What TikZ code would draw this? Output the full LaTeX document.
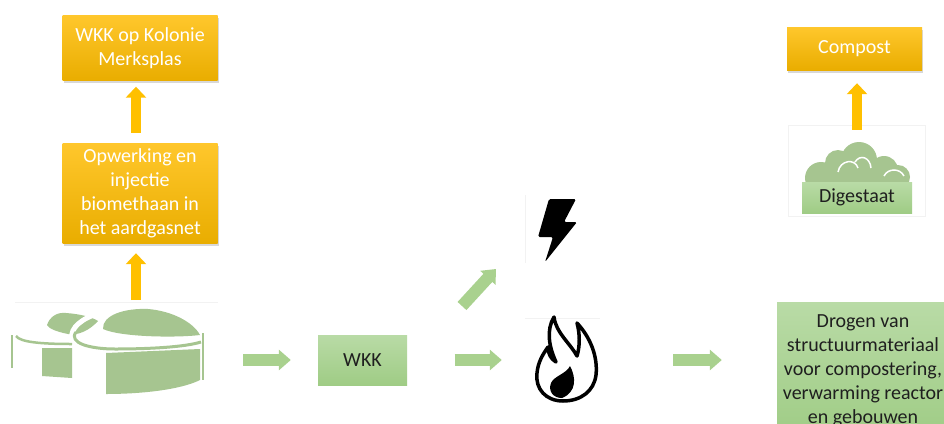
\documentclass[tikz,border=0pt]{standalone}
\usepackage{fontspec}
\setmainfont{Carlito}
\usetikzlibrary{arrows.meta,shadows,calc}
\definecolor{gold}{HTML}{FFC000}
\definecolor{goldtop}{HTML}{FFC72C}
\definecolor{goldbot}{HTML}{E9AD00}
\definecolor{leaf}{HTML}{A9D18E}
\definecolor{leaftop}{HTML}{B9DBA6}
\definecolor{leafbot}{HTML}{9FCC85}
\definecolor{tankgreen}{HTML}{A6C590}
\definecolor{ink}{HTML}{1F1F1F}
\definecolor{framegray}{HTML}{F2F2F2}

\begin{document}
\begin{tikzpicture}[x=1pt,y=-1pt,
  font=\fontsize{20}{24}\selectfont,
  goldbox/.style={rectangle, top color=goldtop, bottom color=goldbot, text=white,
    align=center, inner sep=0pt,
    drop shadow={shadow xshift=1pt, shadow yshift=-2.5pt, opacity=0.3}},
  leafbox/.style={rectangle, top color=leaftop, bottom color=leafbot, text=ink,
    align=center, inner sep=0pt},
  iconbox/.style={rectangle, inner sep=0pt},
  yarrow/.style={draw=gold, line width=10pt, -{Triangle[width=20pt,length=11pt]}},
  garrow/.style={draw=leaf, line width=12pt, -{Triangle[width=20pt,length=12pt]}},
  iconframe/.style={draw=framegray, line width=0.8pt},
]
\useasboundingbox (0,0) rectangle (944,423);
\clip (0,0) rectangle (944,423);
\fill[white] (0,0) rectangle (944,423);

% ---------- boxes ----------
\node[goldbox, minimum width=155pt, minimum height=65pt] (chp) at (140,48)
  {WKK op Kolonie\\Merksplas};
\node[goldbox, minimum width=155pt, minimum height=100pt] (upgrade) at (140,193)
  {Opwerking en\\injectie\\biomethaan in\\het aardgasnet};
\node[goldbox, minimum width=135pt, minimum height=43pt] (compost) at (854.5,48.5)
  {Compost};
\node[leafbox, minimum width=89pt, minimum height=50pt] (wkk) at (362.5,360) {WKK};
\node[leafbox, minimum width=172pt, minimum height=137pt] (heat) at (863,370.5)
  {Drogen van\\structuurmateriaal\\voor compostering,\\verwarming reactor\\en gebouwen};

% ---------- icon areas ----------
\node[iconbox, minimum width=195pt, minimum height=95pt] (tanks) at (107,348) {};
\node[iconbox, minimum width=60pt, minimum height=68pt] (bolt) at (560,230) {};
\node[iconbox, minimum width=60pt, minimum height=84pt] (flame) at (565,358) {};
\node[iconbox, minimum width=138pt, minimum height=90pt] (digestate) at (856,170) {};

% faint picture frames
\draw[iconframe] (15,302) -- (218,302);
\draw[iconframe] (525,195) -- (525,263);
\draw[iconframe] (525,318) -- (600,318);
\draw[iconframe] (788,125) rectangle (925,216);

% ---------- digester tanks ----------
\begin{scope}[tankgreen]
  % small tank: dome, rim and wall
  \fill (47,325) .. controls (50,316) and (58,312) .. (66,313)
        .. controls (80,314) and (92,317) .. (98,321)
        .. controls (90,330) and (78,336) .. (68,334)
        .. controls (58,332) and (49,329) .. (47,325) -- cycle;
  \draw[line width=2.5pt] (16,336) .. controls (20,342) and (40,344) .. (72,344);
  \fill (42,348) -- (72,348) -- (72,378) -- (42,376) -- cycle;
  % white outline of the large tank's top, cutting the small dome
  \draw[white, line width=5pt] (100,313) .. controls (82,318) and (70,328) .. (72,338);
  % large tank: dome, rim and wall
  \fill (103,329) .. controls (102,315) and (125,308) .. (148,309)
        .. controls (172,311) and (193,322) .. (200,335)
        .. controls (175,338) and (120,337) .. (103,329) -- cycle;
  \draw[line width=3pt] (76,332) .. controls (68,343) and (90,349) .. (115,349)
        .. controls (150,349) and (185,347) .. (201,342);
  \fill (106,353) -- (200,349) -- (200,380)
        .. controls (180,390) and (140,394) .. (106,394) -- cycle;
  % side posts
  \draw[line width=2pt] (12,335) -- (12,368);
  \draw[line width=2pt] (203,333) -- (203,380);
\end{scope}

% ---------- lightning bolt ----------
\fill[black, rounded corners=1.5pt] (549,199) -- (576,199) -- (564,222) -- (577,222)
  -- (545,262) -- (553,237) -- (538,237) -- cycle;

% ---------- flame ----------
\draw[black, line width=3.5pt, line join=round]
  (563,401) .. controls (546,401) and (535,389) .. (537,373)
  .. controls (538,362) and (543,354) .. (548,347)
  .. controls (548,354) and (551,359) .. (556,362)
  .. controls (549,347) and (546,330) .. (554,317)
  .. controls (556,333) and (570,343) .. (577,356)
  .. controls (580,346) and (580,334) .. (577,323)
  .. controls (590,337) and (598,356) .. (596,375)
  .. controls (594,391) and (581,401) .. (563,401) -- cycle;
\fill[black] (562,398) .. controls (553,398) and (548,391) .. (551,383)
  .. controls (554,376) and (566,374) .. (570,366)
  .. controls (576,377) and (577,392) .. (562,398) -- cycle;

% ---------- digestate heap ----------
\begin{scope}
  \clip (795,130) rectangle (918,183);
  \fill[tankgreen] (821,178) circle (16pt) (838,163) circle (13pt)
    (859,160) circle (18pt) (884,170) circle (14pt) (898,177) circle (12pt)
    (821,170) rectangle (898,183);
\end{scope}
\draw[white, line width=1.5pt] (838,172) .. controls (840,160) and (855,158) .. (858,168);
\draw[white, line width=1.5pt] (855,162) .. controls (860,154) and (870,157) .. (871,168);
\draw[white, line width=1.5pt] (884,176) .. controls (888,168) and (900,168) .. (904,176);
\node[leafbox, minimum width=110pt, minimum height=31pt] (diglabel) at (857,197.5) {Digestaat};

% ---------- connectors ----------
\draw[yarrow] ($(upgrade.north)+(-4,-10)$) -- ($(chp.south)+(-4,6)$);
\draw[yarrow] ($(upgrade.south)+(-4,57)$) -- ($(upgrade.south)+(-4,10)$);
\draw[yarrow] ($(digestate.north)+(1,5)$) -- ($(compost.south)+(2.5,13)$);

\draw[garrow, shorten <=38.5pt, shorten >=27pt] (tanks.east |- wkk.west) -- (wkk.west);
\draw[garrow, shorten <=47.5pt, shorten >=33pt] (wkk.east) -- (flame.west |- wkk.east);
\coordinate (up0) at (462,306);
\coordinate (up1) at (496,269);
\draw[garrow] (up0) -- (up1);
\draw[garrow, shorten <=78pt, shorten >=55pt] (flame.east |- wkk.east) -- (heat.west |- wkk.east);
\end{tikzpicture}
\end{document}
